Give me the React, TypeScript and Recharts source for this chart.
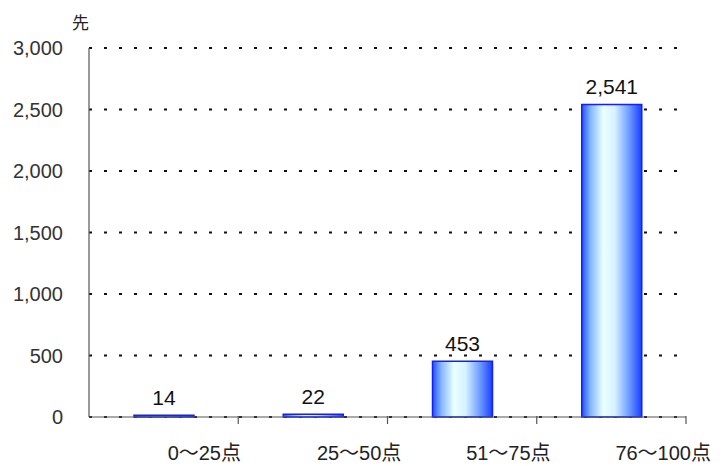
import React from "react"
import { BarChart, Bar, XAxis, YAxis, CartesianGrid, LabelList } from "recharts"

const categories = ["0～25点", "25～50点", "51～75点", "76～100点"]
const counts = [14, 22, 453, 2541]
const yTicks = [0, 500, 1000, 1500, 2000, 2500, 3000]

const data = categories.map((c, i) => ({ name: c, value: counts[i] }))

const FONT = '"Liberation Sans", Arial, "Noto Sans CJK JP", sans-serif'
const W = 726
const H = 466
const MARGIN = { top: 48, right: 40, left: 9, bottom: 9 }
const Y_WIDTH = 80
const X_HEIGHT = 40
const band = (W - MARGIN.left - Y_WIDTH - MARGIN.right) / categories.length

const fmt = (v: number) => v.toString().replace(/\B(?=(\d{3})+(?!\d))/g, ",")

function XTick(props: any) {
  const { x, y, payload } = props
  const right = x + band / 2
  return (
    <g>
      <line x1={right} x2={right} y1={y - 9} y2={y - 1} stroke="#555" strokeWidth={1.2} />
      <text x={x + 4} y={y + 35} textAnchor="start" fontSize={20} fill="#222" fontFamily={FONT}>
        {payload.value}
      </text>
    </g>
  )
}

export default function App() {
  return (
    <div style={{ position: "absolute", left: 0, top: 0, width: W, height: H, background: "#fff" }}>
      <div style={{ position: "absolute", left: 72, top: 9, fontSize: 17, fontFamily: FONT, color: "#222" }}>先</div>
      <BarChart width={W} height={H} data={data} margin={MARGIN}>
        <defs>
          <linearGradient id="barGrad" x1="0" y1="0" x2="1" y2="0">
            <stop offset="0%" stopColor="#2450ff" />
            <stop offset="15%" stopColor="#86b8ff" />
            <stop offset="36%" stopColor="#eaffff" />
            <stop offset="55%" stopColor="#d6f2ff" />
            <stop offset="80%" stopColor="#6a98ff" />
            <stop offset="100%" stopColor="#1a3cff" />
          </linearGradient>
        </defs>
        <CartesianGrid vertical={false} stroke="#111" strokeWidth={2} strokeDasharray="3 12" />
        <XAxis
          dataKey="name"
          height={X_HEIGHT}
          axisLine={{ stroke: "#555", strokeWidth: 1.2 }}
          tickLine={false}
          tick={<XTick />}
          interval={0}
        />
        <YAxis
          width={Y_WIDTH}
          domain={[0, 3000]}
          ticks={yTicks}
          tickFormatter={fmt}
          axisLine={{ stroke: "#555", strokeWidth: 1.2 }}
          tickLine={false}
          tick={{ fontSize: 20, fill: "#333", fontFamily: FONT, dx: -18 }}
        />
        <Bar dataKey="value" fill="url(#barGrad)" stroke="#1020ff" strokeWidth={1.5} barSize={60} isAnimationActive={false}>
          <LabelList
            dataKey="value"
            position="top"
            offset={10}
            formatter={(v: any) => fmt(Number(v))}
            style={{ fontSize: 21, fill: "#111", fontFamily: FONT }}
          />
        </Bar>
      </BarChart>
    </div>
  )
}
